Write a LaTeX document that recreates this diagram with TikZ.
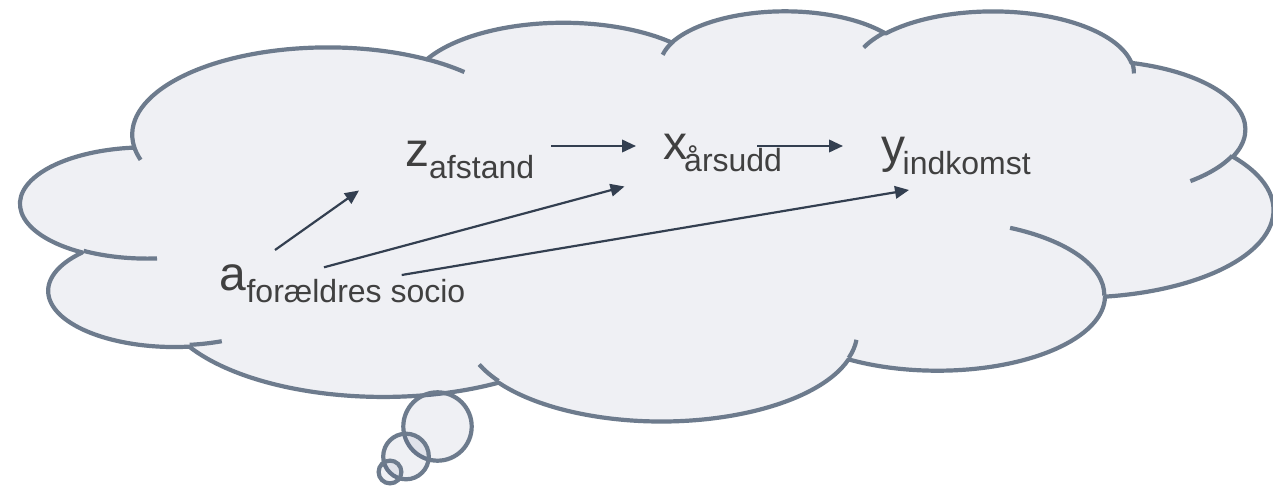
\documentclass[tikz,border=0pt]{standalone}
\usepackage{fontspec}
\setmainfont{Liberation Sans}
\usetikzlibrary{arrows.meta}
\definecolor{cloudline}{HTML}{6D7B8D}
\definecolor{cloudfill}{HTML}{1A2962}
\definecolor{arrowc}{HTML}{333F50}
\definecolor{textc}{HTML}{404040}
\newcommand\subsz{\fontsize{32}{32}\selectfont}
% visual (DrawingML) angle -> parametric angle of an ellipse
\pgfmathdeclarefunction{pang}{3}{%
  \pgfmathparse{atan2((#2)*sin(#1),(#3)*cos(#1))}%
  \pgfmathsetmacro\pangd{\pgfmathresult-(#1)}%
  \pgfmathparse{(#1)+\pangd-360*round(\pangd/360)}%
}
\begin{document}
\begin{tikzpicture}[x=1pt,y=-1pt,
  cloudshape/.style={draw=cloudline, line width=4.2pt, fill=cloudfill, fill opacity=0.065, line join=round},
  cloudinner/.style={draw=cloudline, line width=4.2pt},
  bubble/.style={draw=cloudline, line width=4.2pt, fill=cloudfill, fill opacity=0.065},
  lbl/.style={font=\fontsize{48}{48}\selectfont, text=textc, inner sep=0pt, anchor=base west},
  conn/.style={draw=arrowc, line width=2.2pt, -{Triangle[length=14pt,width=12.5pt]}}]
\useasboundingbox (0,0) rectangle (1273,486);
\fill[white] (0,0) rectangle (1273,486);
\begin{scope}[shift={(21pt,-10pt)}, x=28.981pt, y=-9.4907pt]
\path[cloudshape] (3.900,14.370)
  arc[x radius=6.753, y radius=9.190, start angle={pang(-190.48748,6.753,9.190)}, end angle={pang(-66.70695,6.753,9.190)}]
  arc[x radius=5.333, y radius=7.267, start angle={pang(-144.10238,5.333,7.267)}, end angle={pang(-54.15715,5.333,7.267)}]
  arc[x radius=4.365, y radius=5.945, start angle={pang(-145.80792,4.365,5.945)}, end angle={pang(-46.0849,4.365,5.945)}]
  arc[x radius=4.857, y radius=6.595, start angle={pang(-130.98607,4.857,6.595)}, end angle={pang(-13.74434,4.857,6.595)}]
  arc[x radius=5.333, y radius=7.273, start angle={pang(-78.70888,5.333,7.273)}, end angle={pang(30.31804,5.333,7.273)}]
  arc[x radius=6.775, y radius=9.220, start angle={pang(-46.26725,6.775,9.220)}, end angle={pang(84.00175,6.775,9.220)}]
  arc[x radius=5.785, y radius=7.867, start angle={pang(0.62502,5.785,7.867)}, end angle={pang(114.65835,5.785,7.867)}]
  arc[x radius=6.752, y radius=9.215, start angle={pang(22.4516,6.752,9.215)}, end angle={pang(137.62415,6.752,9.215)}]
  arc[x radius=7.720, y radius=10.543, start angle={pang(66.24263,7.720,10.543)}, end angle={pang(141.95365,7.720,10.543)}]
  arc[x radius=4.360, y radius=5.918, start angle={pang(-274.94208,4.360,5.918)}, end angle={pang(-128.20651,4.360,5.918)}]
  arc[x radius=4.345, y radius=5.945, start angle={pang(-246.8285,4.345,5.945)}, end angle={pang(-94.30965,4.345,5.945)}]
  -- cycle;
\path[cloudinner]
  (4.693,26.177) arc[x radius=4.345, y radius=5.945, start angle={pang(86.742,4.345,5.945)}, end angle={pang(113.1715,4.345,5.945)}]
  (6.928,34.899) arc[x radius=4.360, y radius=5.918, start angle={pang(73.61047,4.360,5.918)}, end angle={pang(85.05794,4.360,5.918)}]
  (16.478,39.090) arc[x radius=6.752, y radius=9.215, start angle={pang(137.62415,6.752,9.215)}, end angle={pang(151.70525,6.752,9.215)}]
  (28.827,34.751) arc[x radius=6.752, y radius=9.215, start angle={pang(6.45327,6.752,9.215)}, end angle={pang(22.45162,6.752,9.215)}]
  (34.129,22.954) arc[x radius=5.785, y radius=7.867, start angle={pang(-70.29235,5.785,7.867)}, end angle={pang(0.62502,5.785,7.867)}]
  (41.798,15.354) arc[x radius=5.333, y radius=7.273, start angle={pang(30.31803,5.333,7.273)}, end angle={pang(58.06953,5.333,7.273)}]
  (38.324,5.426) arc[x radius=4.857, y radius=6.595, start angle={pang(-13.74433,4.857,6.595)}, end angle={pang(1.11457,4.857,6.595)}]
  (29.078,3.952) arc[x radius=4.857, y radius=6.595, start angle={pang(-149.18145,4.857,6.595)}, end angle={pang(-130.98608,4.857,6.595)}]
  (22.141,4.720) arc[x radius=4.365, y radius=5.945, start angle={pang(-163.49427,4.365,5.945)}, end angle={pang(-145.80792,4.365,5.945)}]
  (14.000,5.192) arc[x radius=6.753, y radius=9.190, start angle={pang(-66.70695,6.753,9.190)}, end angle={pang(-54.3876,6.753,9.190)}]
  (4.127,15.789) arc[x radius=6.753, y radius=9.190, start angle={pang(157.65435,6.753,9.190)}, end angle={pang(169.51252,6.753,9.190)}];
\end{scope}
% thought bubbles
\path[bubble] (437.5,426.5) circle[radius=34.2];
\path[bubble] (406,456.5) circle[radius=22.8];
\path[bubble] (390,472) circle[radius=11.4];
% labels
\node[lbl] (z) at (405,166.7) {z\raisebox{-12pt}{\subsz afstand}};
\node[lbl] (x) at (663,159.3) {x\kern-3pt\raisebox{-12pt}{\subsz årsudd}};
\node[lbl] (y) at (881,163) {y\kern-2.5pt\raisebox{-12pt}{\subsz indkomst}};
\node[lbl] (a) at (219.7,290.7) {a\raisebox{-12pt}{\subsz forældres socio}};
% connector ends
\coordinate (zx0) at (551,146);   \coordinate (zx1) at (636,146);
\coordinate (xy0) at (757,146);   \coordinate (xy1) at (843,146);
\coordinate (az0) at (275,250);   \coordinate (az1) at (359,190.5);
\coordinate (ax0) at (324,267.3); \coordinate (ax1) at (624.5,186.5);
\coordinate (ay0) at (401.7,275); \coordinate (ay1) at (909,190);
\draw[conn] (zx0) -- (zx1);
\draw[conn] (xy0) -- (xy1);
\draw[conn] (az0) -- (az1);
\draw[conn] (ax0) -- (ax1);
\draw[conn] (ay0) -- (ay1);
\end{tikzpicture}
\end{document}
